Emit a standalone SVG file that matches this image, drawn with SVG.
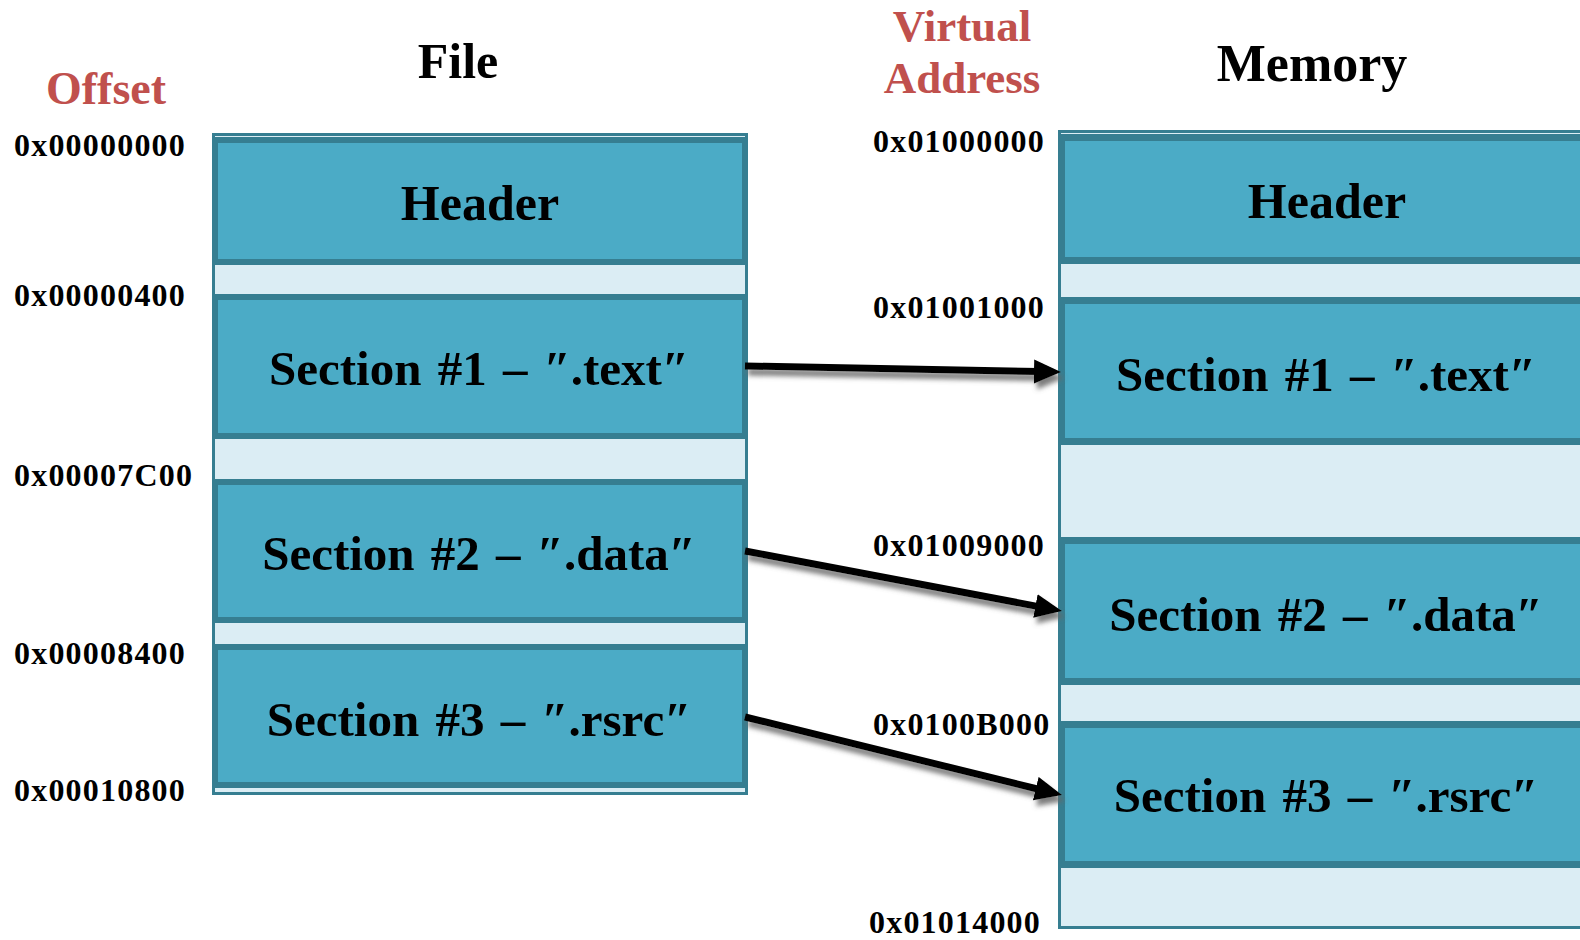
<svg xmlns="http://www.w3.org/2000/svg" width="1580" height="940" viewBox="0 0 1580 940">
  <style>
    text { font-family: "Liberation Serif", "DejaVu Serif", serif; font-weight: bold; }
    .frame { fill: #dbedf4; stroke: #367e91; stroke-width: 3; }
    .seg { fill: #4babc6; stroke: #367e91; stroke-width: 6; }
    .mseg { fill: #4babc6; stroke: #367e91; stroke-width: 7; }
    .label { font-size: 49px; fill: #000; text-anchor: middle; word-spacing: 4px; }
    .head { font-size: 50px; fill: #000; text-anchor: middle; }
    .title { font-size: 50px; fill: #000; text-anchor: middle; }
    .axis { font-size: 45px; fill: #c0504d; text-anchor: middle; }
    .addr { font-size: 32px; fill: #000; letter-spacing: 1.2px; }
    .arrow { fill: none; stroke: #000; stroke-width: 7; marker-end: url(#head); }
  </style>
  <defs>
    <marker id="head" markerUnits="userSpaceOnUse" markerWidth="30" markerHeight="26" refX="6" refY="12" orient="auto">
      <path d="M0,0 L27,12 L0,24 z" fill="#000"/>
    </marker>
    <filter id="shadow" filterUnits="userSpaceOnUse" x="0" y="0" width="1580" height="940">
      <feGaussianBlur in="SourceAlpha" stdDeviation="2.4" result="b"/>
      <feOffset in="b" dx="3" dy="6" result="o"/>
      <feFlood flood-color="#666" flood-opacity="0.85"/>
      <feComposite in2="o" operator="in" result="s"/>
      <feMerge>
        <feMergeNode in="s"/>
        <feMergeNode in="SourceGraphic"/>
      </feMerge>
    </filter>
  </defs>

  <rect width="1580" height="940" fill="#fff"/>

  <!-- column headings -->
  <g id="headings">
    <text class="axis" x="106" y="104" style="font-size:46px">Offset</text>
    <text class="title" x="458" y="78">File</text>
    <text class="axis" x="962" y="41">Virtual</text>
    <text class="axis" x="962" y="93">Address</text>
    <text class="title" x="1312" y="81" style="font-size:52px">Memory</text>
  </g>

  <!-- file offsets -->
  <g id="file-offsets">
    <text class="addr" x="14" y="156">0x00000000</text>
    <text class="addr" x="14" y="306">0x00000400</text>
    <text class="addr" x="14" y="486">0x00007C00</text>
    <text class="addr" x="14" y="664">0x00008400</text>
    <text class="addr" x="14" y="801">0x00010800</text>
  </g>

  <!-- virtual addresses -->
  <g id="memory-addresses">
    <text class="addr" x="873" y="152">0x01000000</text>
    <text class="addr" x="873" y="318">0x01001000</text>
    <text class="addr" x="873" y="556">0x01009000</text>
    <text class="addr" x="873" y="735">0x0100B000</text>
    <text class="addr" x="869" y="933">0x01014000</text>
  </g>

  <!-- on-disk layout -->
  <g id="file-image">
    <rect class="frame" x="213.5" y="134.5" width="533" height="659"/>
    <g id="file-header">
      <rect class="seg" x="215" y="140" width="530" height="122"/>
      <text class="head" x="480" y="220">Header</text>
    </g>
    <g id="file-text">
      <rect class="seg" x="215" y="297" width="530" height="139"/>
      <text class="label" x="479" y="385">Section #1 – ″.text″</text>
    </g>
    <g id="file-data">
      <rect class="seg" x="215" y="482" width="530" height="138"/>
      <text class="label" x="479" y="570">Section #2 – ″.data″</text>
    </g>
    <g id="file-rsrc">
      <rect class="seg" x="215" y="647" width="530" height="138"/>
      <text class="label" x="479" y="736">Section #3 – ″.rsrc″</text>
    </g>
  </g>

  <!-- mapped layout -->
  <g id="memory-image">
    <rect class="frame" x="1059.5" y="131.5" width="560" height="796"/>
    <g id="mem-header">
      <rect class="mseg" x="1061.5" y="137.5" width="560" height="123"/>
      <text class="head" x="1327" y="218">Header</text>
    </g>
    <g id="mem-text">
      <rect class="mseg" x="1061.5" y="300.5" width="560" height="141"/>
      <text class="label" x="1326" y="391">Section #1 – ″.text″</text>
    </g>
    <g id="mem-data">
      <rect class="mseg" x="1061.5" y="540.5" width="560" height="141"/>
      <text class="label" x="1326" y="631">Section #2 – ″.data″</text>
    </g>
    <g id="mem-rsrc">
      <rect class="mseg" x="1061.5" y="724.5" width="560" height="140"/>
      <text class="label" x="1326" y="812">Section #3 – ″.rsrc″</text>
    </g>
  </g>

  <!-- section mapping arrows -->
  <g id="connectors" filter="url(#shadow)">
    <path class="arrow" d="M745,366 L1040,371.6"/>
    <path class="arrow" d="M745,551 L1041.3,607.1"/>
    <path class="arrow" d="M745,717 L1041.6,790"/>
  </g>
</svg>
